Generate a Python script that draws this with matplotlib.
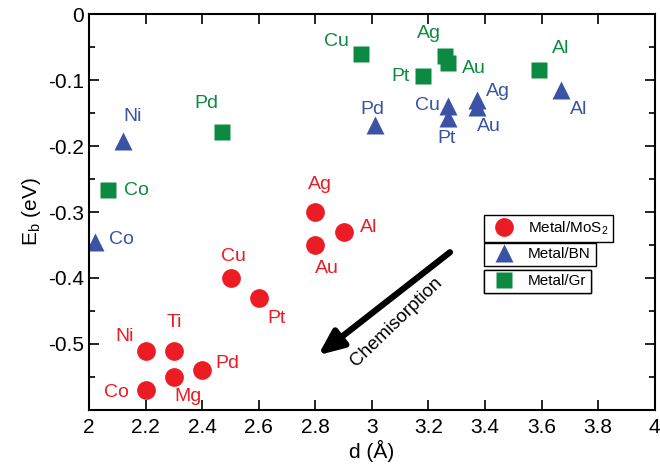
import numpy as np
import matplotlib.pyplot as plt
from matplotlib.lines import Line2D

plt.rcParams['font.family'] = ['Liberation Sans', 'DejaVu Sans']

# Metal/MoS2
mos2_names = ['Ni', 'Ti', 'Co', 'Mg', 'Pd', 'Cu', 'Pt', 'Ag', 'Au', 'Al']
mos2_d = [2.2, 2.3, 2.2, 2.3, 2.4, 2.5, 2.6, 2.8, 2.8, 2.9]
mos2_e = [-0.51, -0.51, -0.57, -0.55, -0.54, -0.40, -0.43, -0.30, -0.35, -0.33]

# Metal/BN
bn_names = ['Co', 'Ni', 'Pd', 'Cu', 'Pt', 'Ag', 'Au', 'Al']
bn_d = [2.02, 2.12, 3.01, 3.27, 3.27, 3.37, 3.37, 3.67]
bn_e = [-0.345, -0.193, -0.168, -0.139, -0.158, -0.130, -0.141, -0.115]

# Metal/Gr
gr_names = ['Co', 'Pd', 'Cu', 'Ag', 'Au', 'Pt', 'Al']
gr_d = [2.067, 2.47, 2.96, 3.26, 3.27, 3.18, 3.59]
gr_e = [-0.267, -0.179, -0.061, -0.064, -0.074, -0.094, -0.085]

# label offsets (data units) from each point
mos2_off = [(-0.076, 0.021), (0.0, 0.042), (-0.105, -0.004), (0.05, -0.03),
            (0.088, 0.011), (0.012, 0.033), (0.064, -0.032), (0.016, 0.041),
            (0.041, -0.036), (0.09, 0.007)]
bn_off = [(0.093, 0.003), (0.035, 0.037), (-0.01, 0.023), (-0.072, 0.001),
          (-0.005, -0.031), (0.075, 0.012), (0.043, -0.03), (0.06, -0.03)]
gr_off = [(0.099, -0.001), (-0.057, 0.043), (-0.087, 0.019), (-0.06, 0.034),
          (0.09, -0.009), (-0.08, 0.0), (0.078, 0.033)]

red = '#ec1c24'
blue = '#3a53a4'
green = '#0c8a41'

fig = plt.figure(figsize=(6.6, 4.68), dpi=100)
ax = fig.add_axes([0.135, 0.124, 0.857, 0.846])

ax.plot(mos2_d, mos2_e, 'o', color=red, ms=13.5, mec='none')
ax.plot(bn_d, bn_e, '^', color=blue, ms=13.5, mec='none')
ax.plot(gr_d, gr_e, 's', color=green, ms=11, mec='none')

for n, x, y, o in zip(mos2_names, mos2_d, mos2_e, mos2_off):
    ax.text(x + o[0], y + o[1], n, color=red, fontsize=14, ha='center', va='center')
for n, x, y, o in zip(bn_names, bn_d, bn_e, bn_off):
    ax.text(x + o[0], y + o[1], n, color=blue, fontsize=14, ha='center', va='center')
for n, x, y, o in zip(gr_names, gr_d, gr_e, gr_off):
    ax.text(x + o[0], y + o[1], n, color=green, fontsize=14, ha='center', va='center')

# arrow
ax.annotate('', xy=(2.81, -0.517), xytext=(3.276, -0.361),
            arrowprops=dict(arrowstyle='-|>,head_length=1.5,head_width=0.65',
                            color='black', lw=4.5, shrinkA=0, shrinkB=0))
ax.text(3.085, -0.466, 'Chemisorption', rotation=44, fontsize=13.5,
        ha='center', va='center', rotation_mode='anchor')

ax.set_xlim(2, 4)
ax.set_ylim(-0.6, 0)
ax.set_xticks(np.arange(2, 4.01, 0.2))
ax.set_xticklabels(['2', '2.2', '2.4', '2.6', '2.8', '3', '3.2', '3.4', '3.6', '3.8', '4'])
ax.set_yticks([0, -0.1, -0.2, -0.3, -0.4, -0.5])
ax.set_yticklabels(['0', '-0.1', '-0.2', '-0.3', '-0.4', '-0.5'])
ax.set_yticks(np.arange(-0.55, 0, 0.1), minor=True)
ax.tick_params(which='both', direction='in', top=True, right=True, labelsize=15, width=1.2)
ax.tick_params(which='major', length=7)
ax.tick_params(which='minor', length=4)
ax.tick_params(axis='x', pad=6)
for s in ax.spines.values():
    s.set_linewidth(1.5)

ax.set_xlabel('d (Å)', fontsize=15, labelpad=2)
ax.set_ylabel(r'E$_\mathregular{b}$ (eV)', fontsize=15, labelpad=4)

# three stacked legend boxes
entries = [('o', red, 13.5, 'Metal/MoS$_\\mathregular{2}$', 0.492),
           ('^', blue, 13.5, 'Metal/BN', 0.422),
           ('s', green, 11, 'Metal/Gr', 0.354)]
for m, c, ms, lab, yy in entries:
    h = Line2D([], [], marker=m, color=c, ms=ms, ls='none', mec='none')
    leg = ax.legend([h], [lab], loc='upper left', bbox_to_anchor=(0.698, yy),
                    frameon=True, fancybox=False, edgecolor='black', framealpha=1,
                    fontsize=11, borderpad=0.3, handletextpad=0.6, borderaxespad=0)
    leg.get_frame().set_linewidth(1.0)
    ax.add_artist(leg)

fig.savefig('out.png', dpi=100)
